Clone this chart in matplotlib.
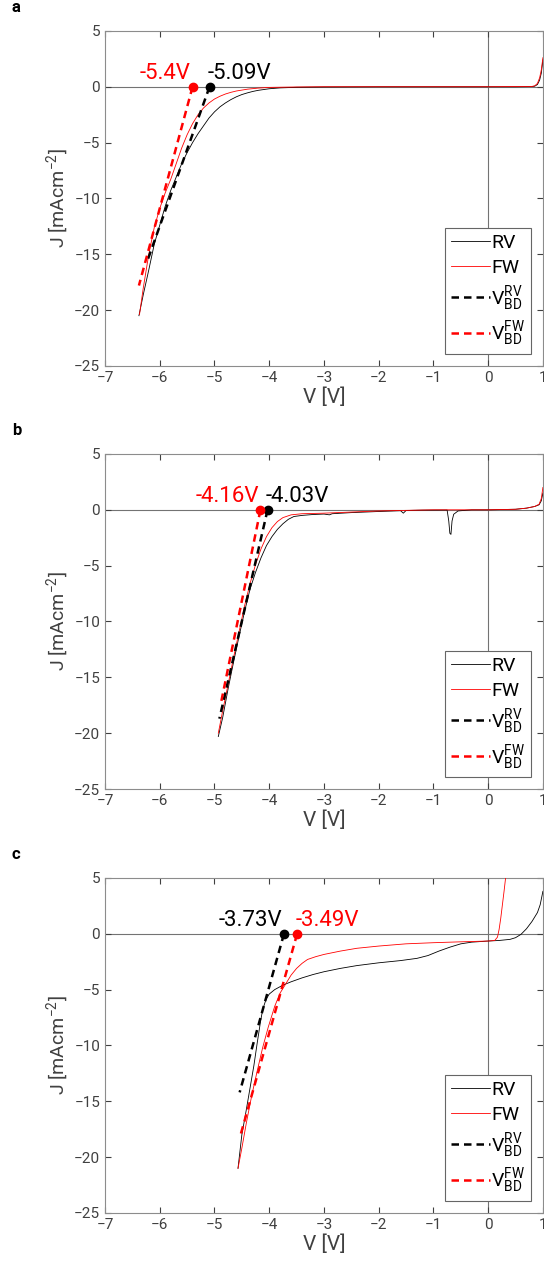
import matplotlib
matplotlib.use("Agg")
import matplotlib.pyplot as plt

plt.rcParams['font.family'] = ['Roboto', 'DejaVu Sans']
plt.rcParams['mathtext.fontset'] = 'custom'
plt.rcParams['mathtext.rm'] = 'Roboto'
plt.rcParams['mathtext.it'] = 'Roboto'
plt.rcParams['mathtext.bf'] = 'Roboto:bold'

# ---- panel a ----
v_rv_a = [-6.38, -6.3, -6.2, -6.1, -6.0, -5.9, -5.8, -5.7, -5.6, -5.5, -5.4, -5.3, -5.2, -5.1,
          -5.0, -4.9, -4.8, -4.7, -4.6, -4.5, -4.4, -4.3, -4.2, -4.0, -3.8, -3.5, -3.0, -2.0,
          -1.0, 0.0, 0.5, 0.8, 0.85, 0.9, 0.94, 0.97, 1.0]
j_rv_a = [-20.5, -18.6, -16.4, -14.1, -12.4, -10.7, -9.3, -8.1, -6.9, -5.9, -5.0, -4.2, -3.5, -2.8,
          -2.25, -1.8, -1.45, -1.15, -0.9, -0.7, -0.55, -0.42, -0.32, -0.18, -0.1, -0.05, -0.02, 0,
          0, 0, 0, 0.02, 0.05, 0.2, 0.6, 1.2, 2.4]
v_fw_a = [-6.37, -6.3, -6.2, -6.1, -6.0, -5.9, -5.8, -5.7, -5.6, -5.5, -5.4, -5.3, -5.2, -5.1,
          -5.0, -4.9, -4.8, -4.7, -4.6, -4.5, -4.4, -4.2, -4.0, -3.5, -3.0, 0.0, 0.8, 0.85,
          0.9, 0.94, 0.97, 1.0]
j_fw_a = [-20.4, -18.0, -15.0, -12.6, -10.9, -9.5, -8.3, -6.9, -5.5, -4.3, -3.3, -2.5, -1.9, -1.45,
          -1.1, -0.85, -0.65, -0.5, -0.38, -0.3, -0.22, -0.12, -0.06, -0.02, 0, 0, 0.03, 0.08,
          0.3, 0.8, 1.5, 2.6]

# ---- panel b ----
v_rv_b = [-4.93, -4.85, -4.75, -4.65, -4.55, -4.45, -4.35, -4.25, -4.15, -4.05, -3.95, -3.85,
          -3.75, -3.65, -3.55, -3.4, -3.2, -3.0, -2.9, -2.85, -2.5, -2.0, -1.6, -1.55, -1.5,
          -1.2, -0.75, -0.72, -0.7, -0.68, -0.66, -0.63, -0.55, -0.3, 0.0, 0.5, 0.7, 0.85,
          0.93, 0.97, 1.0]
j_rv_b = [-20.3, -18.6, -16.0, -13.6, -11.3, -9.1, -7.1, -5.6, -4.3, -3.2, -2.4, -1.75,
          -1.25, -0.85, -0.6, -0.5, -0.42, -0.38, -0.45, -0.35, -0.25, -0.15, -0.08, -0.3, -0.06,
          -0.03, -0.02, -1.0, -2.1, -2.2, -1.0, -0.4, -0.1, 0, 0, 0.05, 0.15, 0.3,
          0.45, 0.8, 1.5]
v_fw_b = [-4.93, -4.85, -4.75, -4.65, -4.55, -4.45, -4.35, -4.25, -4.15, -4.05, -3.95, -3.85,
          -3.75, -3.6, -3.4, -3.0, -2.5, -2.0, -1.5, -1.0, 0.0, 0.5, 0.7, 0.85, 0.93, 0.97, 1.0]
j_fw_b = [-20.0, -18.0, -15.6, -13.2, -10.9, -8.6, -6.6, -4.9, -3.5, -2.4, -1.6, -1.05,
          -0.7, -0.45, -0.35, -0.3, -0.2, -0.1, -0.05, 0, 0, 0.05, 0.15, 0.3, 0.5, 1.0, 2.0]

# ---- panel c ----
v_rv_c = [-4.57, -4.50, -4.42, -4.35, -4.28, -4.22, -4.16, -4.12, -4.06, -4.0, -3.9, -3.75,
          -3.6, -3.4, -3.2, -3.0, -2.7, -2.4, -2.0, -1.6, -1.3, -1.1, -0.9, -0.7, -0.5, -0.3,
          0.0, 0.2, 0.4, 0.5, 0.6, 0.7, 0.8, 0.9, 0.95, 1.0]
j_rv_c = [-21.0, -18.0, -15.8, -13.8, -11.8, -9.8, -7.9, -6.8, -5.9, -5.4, -5.0, -4.6,
          -4.3, -3.95, -3.65, -3.4, -3.1, -2.85, -2.6, -2.4, -2.2, -1.95, -1.55, -1.2, -0.9, -0.75,
          -0.65, -0.6, -0.5, -0.35, -0.05, 0.45, 1.1, 1.9, 2.6, 3.8]
v_fw_c = [-4.57, -4.50, -4.42, -4.32, -4.22, -4.12, -4.02, -3.9, -3.8, -3.7, -3.6, -3.5,
          -3.4, -3.3, -3.15, -3.0, -2.7, -2.4, -2.0, -1.5, -1.0, -0.5, 0.0, 0.12, 0.17, 0.2,
          0.23, 0.26, 0.29, 0.33]
j_fw_c = [-21.0, -19.2, -17.0, -14.5, -12.3, -10.2, -8.4, -6.5, -5.3, -4.5, -3.7, -3.1,
          -2.65, -2.3, -2.05, -1.85, -1.55, -1.3, -1.1, -0.9, -0.8, -0.72, -0.65, -0.6, -0.3, 0.4,
          1.4, 2.6, 3.8, 5.5]

# breakdown voltages and the far end of each fitted line (V, J)
vbd_rv = [-5.09, -4.03, -3.73]
vbd_fw = [-5.4, -4.16, -3.49]
fit_end_rv = [(-6.22, -15.5), (-4.91, -18.7), (-4.54, -14.2)]
fit_end_fw = [(-6.38, -17.8), (-4.89, -17.5), (-4.54, -18.3)]
panel_labels = ['a', 'b', 'c']

curves = [(v_rv_a, j_rv_a, v_fw_a, j_fw_a),
          (v_rv_b, j_rv_b, v_fw_b, j_fw_b),
          (v_rv_c, j_rv_c, v_fw_c, j_fw_c)]

fig = plt.figure(figsize=(5.44, 12.72), dpi=100)
bottoms = [0.7123, 0.3797, 0.0464]
axc = '0.25'

for i in range(3):
    ax = fig.add_axes([0.193, bottoms[i], 0.805, 0.2634])
    vr, jr, vf, jf = curves[i]
    ax.axhline(0, color='0.45', lw=0.8, zorder=1)
    ax.axvline(0, color='0.45', lw=0.8, zorder=1)
    ax.plot(vr, jr, color='k', lw=0.6, label='RV', zorder=3)
    ax.plot(vf, jf, color='red', lw=0.6, label='FW', zorder=3)
    ax.plot([vbd_rv[i], fit_end_rv[i][0]], [0, fit_end_rv[i][1]], color='k', lw=1.8,
            ls=(0, (3, 2)), label=r'$\mathregular{V_{BD}^{RV}}$', zorder=4)
    ax.plot([vbd_fw[i], fit_end_fw[i][0]], [0, fit_end_fw[i][1]], color='red', lw=1.8,
            ls=(0, (3, 2)), label=r'$\mathregular{V_{BD}^{FW}}$', zorder=4)
    ax.plot(vbd_rv[i], 0, 'o', color='k', ms=6, zorder=5)
    ax.plot(vbd_fw[i], 0, 'o', color='red', ms=6, zorder=5)

    # left value right-aligned, right value left-aligned
    pairs = sorted([(vbd_rv[i], 'k'), (vbd_fw[i], 'red')])
    (vl, cl), (vr_, cr) = pairs
    ax.text(vl - 0.03, 0.25, '%gV' % vl, color=cl, ha='right', va='bottom', fontsize=16)
    ax.text(vr_ - 0.03, 0.25, '%gV' % vr_, color=cr, ha='left', va='bottom', fontsize=16)

    ax.set_xlim(-7, 1)
    ax.set_ylim(-25, 5)
    ax.set_xticks(range(-7, 2))
    ax.set_yticks(range(-25, 6, 5))
    ax.tick_params(direction='in', top=True, right=True, labelsize=11, colors=axc, length=4)
    for s in ax.spines.values():
        s.set_color('0.55')
        s.set_linewidth(0.8)
    ax.set_xlabel('V [V]', fontsize=15, color=axc, labelpad=2)
    ax.set_ylabel(r'J [mAcm$^{\mathregular{-2}}$]', fontsize=14, color=axc, labelpad=2)

    leg = ax.legend(loc='lower right', fontsize=14, fancybox=False, framealpha=1,
                    edgecolor='0.4', borderaxespad=0.6, handlelength=2.0,
                    handletextpad=0.1, labelspacing=0.35, borderpad=0.3)
    leg.get_frame().set_linewidth(0.8)

    fig.text(0.022, bottoms[i] + 0.2634 + 0.0125, panel_labels[i], fontsize=12,
             fontweight='bold', va='bottom')

fig.savefig('out.png', dpi=100)
